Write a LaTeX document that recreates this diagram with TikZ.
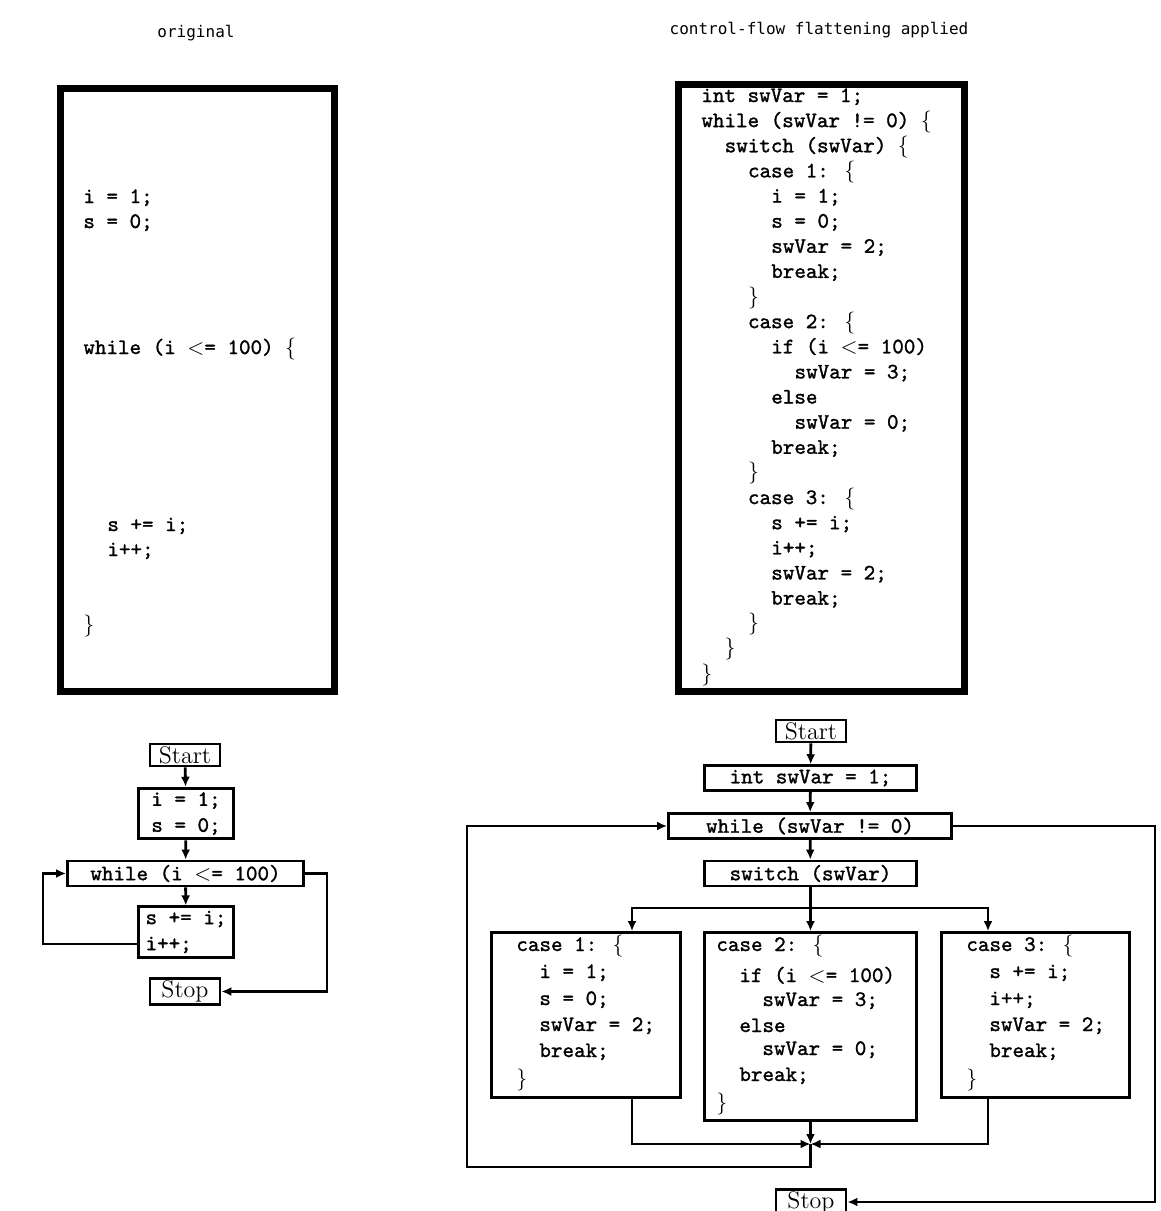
\documentclass[tikz,border=0pt]{standalone}
\usepackage{fontspec}
\usetikzlibrary{arrows.meta}
\newfontfamily\titlefont{DejaVu Sans Mono}
\newfontfamily\boldtt[FakeBold=1.3]{lmmono10-regular.otf}
\newcommand\cfcode{\fontsize{11}{13}\selectfont\boldtt}
\tikzset{
  code/.style={font=\cfcode, anchor=west, inner sep=0pt, text height=7.5pt, text depth=2.5pt},
  fbox/.style={draw, line width=1.4pt, inner sep=2pt, font=\cfcode},
  rmbox/.style={draw, line width=1.4pt, inner sep=1pt, font=\fontsize{12}{14}\selectfont},
  bigbox/.style={draw, line width=3.5pt, inner sep=0pt},
  arr/.style={-{Latex[length=5pt,width=4.5pt]}, line width=1.4pt},
  conn/.style={line width=1.4pt},
  ttl/.style={font=\titlefont\fontsize{8}{9}\selectfont, inner sep=0pt}
}
\begin{document}
\begin{tikzpicture}[x=0.5pt, y=-0.5pt]
\clip (0,0) rectangle (1161,1211);
\fill[white] (0,0) rectangle (1161,1211);

% titles
\node[ttl] (t1) at (196,33) {original};
\node[ttl] (t2) at (819,30) {control-flow flattening applied};

% big code boxes
\node[bigbox, minimum width=137pt, minimum height=301.5pt] (lcode) at (197.5,390) {};
\node[bigbox, minimum width=143pt, minimum height=303.5pt] (rcode) at (821.5,388) {};

% left code
\node[code] (l1) at (83,198) {i = 1;};
\node[code] (l2) at (83,223) {s = 0;};
\node[code] (l3) at (83,349) {while (i $<$= 100) $\{$};
\node[code] (l4) at (107,526) {s += i;};
\node[code] (l5) at (107,551) {i++;};
\node[code] (l6) at (83,626) {$\}$};

% right code
\foreach \n/\lv/\t in {
  0/0/{int swVar = 1;},
  1/0/{while (swVar != 0) $\{$},
  2/1/{switch (swVar) $\{$},
  3/2/{case 1: $\{$},
  4/3/{i = 1;},
  5/3/{s = 0;},
  6/3/{swVar = 2;},
  7/3/{break;},
  8/2/{$\}$},
  9/2/{case 2: $\{$},
  10/3/{if (i $<$= 100)},
  11/4/{swVar = 3;},
  12/3/{else},
  13/4/{swVar = 0;},
  14/3/{break;},
  15/2/{$\}$},
  16/2/{case 3: $\{$},
  17/3/{s += i;},
  18/3/{i++;},
  19/3/{swVar = 2;},
  20/3/{break;},
  21/2/{$\}$},
  22/1/{$\}$},
  23/0/{$\}$}}
  \node[code] (r\n) at ({701+23.3*\lv},{97+25.13*\n}) {\t};

% left flowchart
\node[rmbox, minimum width=35pt, minimum height=11pt] (lstart) at (185,755) {Start};
\node[fbox, minimum width=47.5pt, minimum height=23pt, align=center] (linit) at (186,813.5) {i = 1;\\s = 0;};
\node[fbox, minimum width=118pt, minimum height=11.5pt] (lwhile) at (185.5,873.5) {while (i $<$= 100)};
\node[fbox, minimum width=47.5pt, minimum height=23.5pt, align=left] (lbody) at (186,932) {s += i;\\i++;\hphantom{ i;}};
\node[rmbox, minimum width=35pt, minimum height=11.5pt] (lstop) at (185,991.5) {Stop};

\draw[arr] (lstart) -- (linit);
\draw[arr] (linit) -- (lwhile);
\draw[arr] (lwhile) -- (lbody);
\coordinate (lk) at (43,944);
\draw[arr] (lbody.west |- lk) -- (lk) |- (lwhile.west);
\coordinate (lx) at (327,873.5);
\draw[arr] (lwhile.east) -- (lx) |- (lstop.east);

% right flowchart
\node[rmbox, minimum width=35pt, minimum height=11pt] (rstart) at (811,731) {Start};
\node[fbox, minimum width=106pt, minimum height=11pt] (rint) at (810.5,778) {int swVar = 1;};
\node[fbox, minimum width=141.5pt, minimum height=11pt] (rwhile) at (810,826) {while (swVar != 0)};
\node[fbox, minimum width=106pt, minimum height=11.5pt] (rswitch) at (810.5,873.5) {switch (swVar)};

\node[draw, line width=1.4pt, minimum width=94.5pt, minimum height=82.5pt] (case1) at (586,1015) {};
\node[draw, line width=1.4pt, minimum width=106pt, minimum height=94pt] (case2) at (810.5,1026.5) {};
\node[draw, line width=1.4pt, minimum width=94pt, minimum height=82.5pt] (case3) at (1035.5,1015) {};

% case texts
\node[code] (a1) at (516,946) {case 1: $\{$};
\node[code] (a2) at (539,973) {i = 1;};
\node[code] (a3) at (539,1000) {s = 0;};
\node[code] (a4) at (539,1026) {swVar = 2;};
\node[code] (a5) at (539,1052) {break;};
\node[code] (a6) at (516,1080) {$\}$};

\node[code] (b1) at (716,946) {case 2: $\{$};
\node[code] (b2) at (739,977) {if (i $<$= 100)};
\node[code] (b3) at (762,1001) {swVar = 3;};
\node[code] (b4) at (739,1027) {else};
\node[code] (b5) at (762,1050) {swVar = 0;};
\node[code] (b6) at (739,1076) {break;};
\node[code] (b7) at (716,1104) {$\}$};

\node[code] (c1) at (966,946) {case 3: $\{$};
\node[code] (c2) at (989,973) {s += i;};
\node[code] (c3) at (989,1000) {i++;};
\node[code] (c4) at (989,1026) {swVar = 2;};
\node[code] (c5) at (989,1052) {break;};
\node[code] (c6) at (966,1080) {$\}$};

\node[rmbox, minimum width=35pt, minimum height=11pt] (rstop) at (811,1202) {Stop};

\draw[arr] (rstart) -- (rint);
\draw[arr] (rint) -- (rwhile);
\draw[arr] (rwhile) -- (rswitch);

\coordinate (split) at (810.5,908);
\coordinate (k1) at (632,908);
\coordinate (k3) at (988,908);
\draw[conn] (rswitch.south) -- (split);
\draw[arr] (split) -- (k1) -- (k1 |- case1.north);
\draw[arr] (split) -- (k3) -- (k3 |- case3.north);
\draw[arr] (split) -- (case2.north);

\coordinate (merge) at (810.5,1144);
\draw[arr] (k1 |- case1.south) -- (k1 |- merge) -- (merge);
\draw[arr] (k3 |- case3.south) -- (k3 |- merge) -- (merge);
\draw[arr] (case2.south) -- (merge);

\coordinate (loopc) at (467,1167);
\draw[arr] (merge) -- (merge |- loopc) -- (loopc) |- (rwhile.west);

\coordinate (ex) at (1155,826);
\draw[arr] (rwhile.east) -- (ex) |- (rstop.east);
\end{tikzpicture}
\end{document}
